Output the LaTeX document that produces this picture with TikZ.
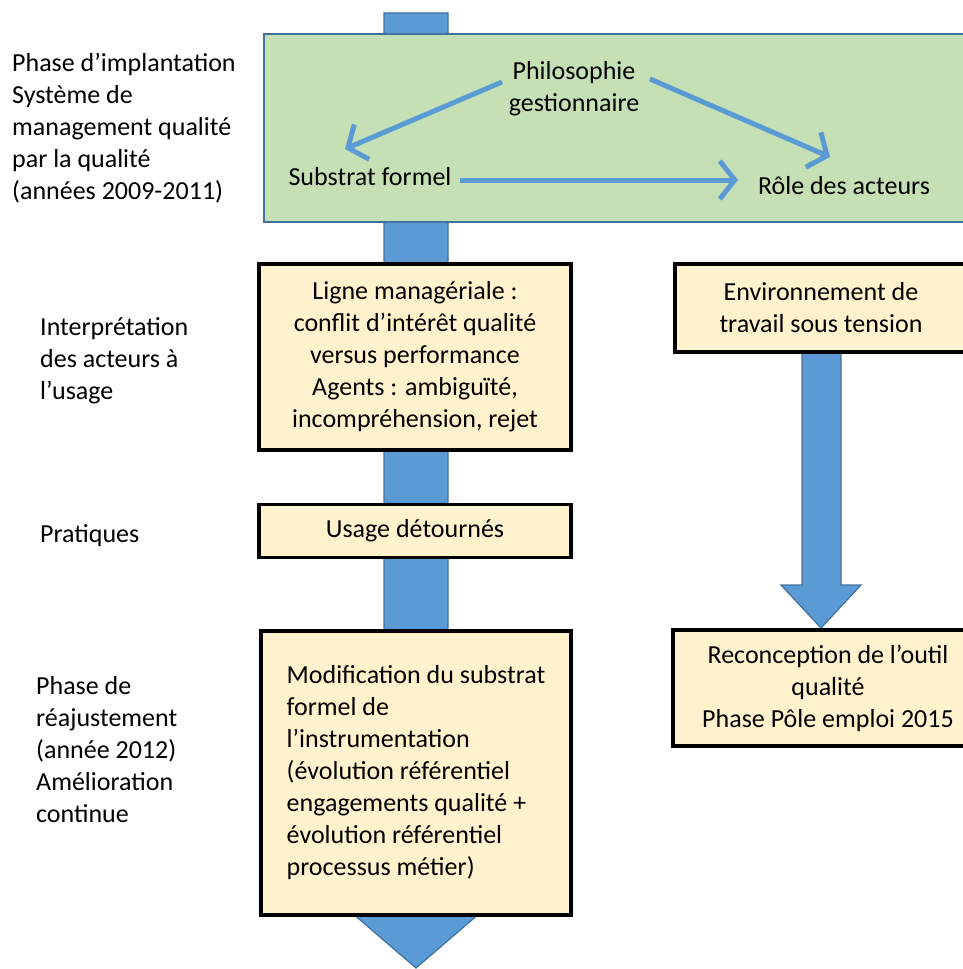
\documentclass[tikz,border=0pt]{standalone}
\usepackage{fontspec}
\setmainfont{Carlito}
\usetikzlibrary{arrows.meta,calc}
\definecolor{arrblue}{HTML}{5B9BD5}
\definecolor{arredge}{HTML}{41719C}
\definecolor{greenfill}{HTML}{C5E0B4}
\definecolor{beige}{HTML}{FFF2CC}
\begin{document}
\begin{tikzpicture}[x=1pt,y=-1pt,
  every node/.style={font=\fontsize{26}{32}\selectfont, inner sep=0pt},
  lab/.style={anchor=west, align=left},
  bbox/.style={draw=black, line width=3.5pt, fill=beige, align=center},
  blockarrow/.style={fill=arrblue, draw=arredge, line width=1.2pt, line join=miter},
  thinarrow/.style={draw=arrblue, line width=5pt, -{Straight Barb[length=15pt,width=38pt]}}]
\clip (0,0) rectangle (963,969);
\useasboundingbox (0,0) rectangle (963,969);
% main vertical block arrow
\draw[blockarrow] (384,13) -- (448,13) -- (448,913) -- (480,913) -- (416,968) -- (352,913) -- (384,913) -- cycle;
% right block arrow
\draw[blockarrow] (802,350) -- (841,350) -- (841,585) -- (861,585) -- (821,628) -- (781,585) -- (802,585) -- cycle;
% green box
\node[draw=arredge, line width=2pt, fill=greenfill, minimum width=712pt, minimum height=188pt] (green) at (620,128) {};
\node[align=center] (phil) at (574,89) {Philosophie\\gestionnaire};
\node (subst) at (370,177) {Substrat formel};
\node (role) at (844,186) {Rôle des acteurs};
\coordinate (p1) at (502,82);
\coordinate (s1) at (345,149);
\coordinate (p2) at (650,79);
\coordinate (r1) at (830,157);
\coordinate (s2) at (460,180);
\coordinate (r2) at (738,180);
\draw[thinarrow] (p1) -- (s1);
\draw[thinarrow] (p2) -- (r1);
\draw[thinarrow] (s2) -- (r2);
% beige boxes
\node[bbox, minimum width=312pt, minimum height=186pt] (ligne) at (415,357)
  {Ligne managériale :\\conflit d’intérêt qualité\\versus performance\\Agents : ambiguïté,\\incompréhension, rejet};
\node[bbox, minimum width=292pt, minimum height=88pt] (env) at (821,308)
  {Environnement de\\travail sous tension};
\node[bbox, minimum width=312pt, minimum height=53pt] (usage) at (415,531) {Usage détournés};
\node[bbox, align=left, minimum width=310pt, minimum height=284pt] (modif) at (416,773)
  {Modification du substrat\\formel de\\l’instrumentation\\(évolution référentiel\\engagements qualité +\\évolution référentiel\\processus métier)};
\node[bbox, minimum width=310pt, minimum height=116pt] (recon) at (828,688)
  {Reconception de l’outil\\qualité\\Phase Pôle emploi 2015};
% left labels
\node[lab] (l1) at (12,128) {Phase d’implantation\\Système de\\management qualité\\par la qualité\\(années 2009-2011)};
\node[lab] (l2) at (40,361) {Interprétation\\des acteurs à\\l’usage};
\node[lab] (l3) at (40,536) {Pratiques};
\node[lab] (l4) at (36,750) {Phase de\\réajustement\\(année 2012)\\Amélioration\\continue};
\end{tikzpicture}
\end{document}
